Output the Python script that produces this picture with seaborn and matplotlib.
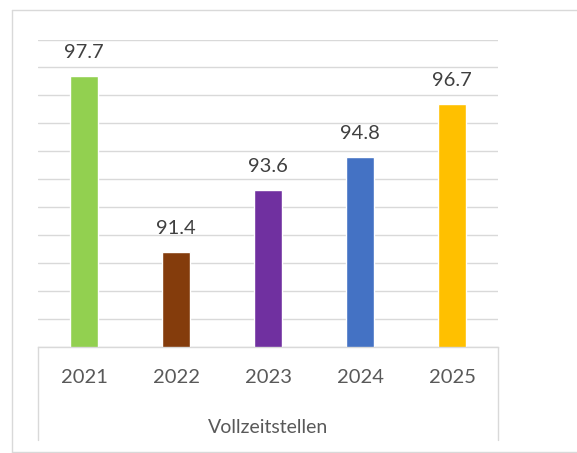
import matplotlib
matplotlib.use("Agg")
import matplotlib.pyplot as plt
import seaborn as sns
import pandas as pd
from matplotlib.lines import Line2D

years = ["2021", "2022", "2023", "2024", "2025"]
values = [97.7, 91.4, 93.6, 94.8, 96.7]
colors = ["#92D050", "#843C0C", "#7030A0", "#4472C4", "#FFC000"]
group_label = "Vollzeitstellen"

sns.set_theme(style="white")
plt.rcParams["font.family"] = ["Lato", "DejaVu Sans"]

W, H = 577, 453
fig = plt.figure(figsize=(W / 100, H / 100), dpi=100)
x0, x1 = 38, 498
ytop, ybase = 39.5, 347
ax = fig.add_axes([x0 / W, 1 - ybase / H, (x1 - x0) / W, (ybase - ytop) / H])

df = pd.DataFrame({"year": years, "value": values})
sns.barplot(data=df, x="year", y="value", hue="year", palette=colors,
            width=0.315, legend=False, ax=ax, saturation=1)

ax.set_ylim(88, 99)
ax.set_yticks(range(88, 100))
ax.set_yticklabels([])
ax.grid(axis="y", color="#D9D9D9", linewidth=1.0)
ax.set_axisbelow(True)
for s in ["left", "right", "top"]:
    ax.spines[s].set_visible(False)
ax.spines["bottom"].set_color("#D9D9D9")
ax.spines["bottom"].set_linewidth(1.0)
ax.tick_params(axis="x", length=0, pad=16, labelsize=14.5, labelcolor="#595959")
ax.tick_params(axis="y", length=0)
ax.set_ylabel("")
ax.set_xlabel("")

for i, v in enumerate(values):
    ax.annotate(f"{v:.1f}", xy=(i, v), xytext=(0, 13), textcoords="offset points",
                ha="center", va="baseline", fontsize=14.5, color="#404040")

fig.text((x0 + x1) / 2 / W, 1 - 433 / H, group_label, ha="center", va="baseline",
         fontsize=14, color="#595959")

# category box vertical lines
for xp in (x0, x1):
    fig.add_artist(Line2D([xp / W, xp / W], [1 - ybase / H, 1 - 440 / H],
                          color="#D9D9D9", linewidth=1.0, transform=fig.transFigure))

# outer chart border (left, top, bottom; right edge is cut off)
bx, by0, by1 = 12 / W, 1 - 452 / H, 1 - 10 / H
for xs, ys in (([bx, bx], [by0, by1]), ([bx, 1.0], [by1, by1]), ([bx, 1.0], [by0, by0])):
    fig.add_artist(Line2D(xs, ys, color="#D9D9D9", linewidth=1.0, transform=fig.transFigure))

fig.savefig("out.png", dpi=100)
